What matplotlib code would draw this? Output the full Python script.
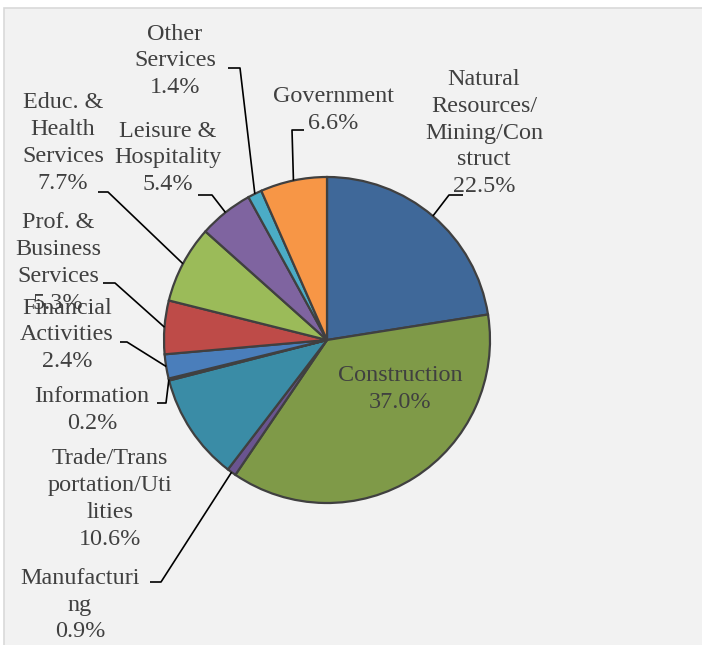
import numpy as np
import matplotlib
matplotlib.use("Agg")
import matplotlib.pyplot as plt
from matplotlib.patches import Rectangle

# data
sectors = ["Natural\nResources/\nMining/Con\nstruct", "Construction", "Manufacturi\nng",
           "Trade/Trans\nportation/Uti\nlities", "Information", "Financial\nActivities",
           "Prof. &\nBusiness\nServices", "Educ. &\nHealth\nServices", "Leisure &\nHospitality",
           "Other\nServices", "Government"]
shares = [22.5, 37.0, 0.9, 10.6, 0.2, 2.4, 5.3, 7.7, 5.4, 1.4, 6.6]
colors = ["#3F6899", "#7F9A48", "#6A5490", "#3A8CA6", "#2E4F7A", "#4A7EBB",
          "#BE4B48", "#9BBB59", "#7F64A0", "#4BACC6", "#F79646"]

W, H = 702, 645
fig = plt.figure(figsize=(W / 100, H / 100), dpi=100, facecolor="white")
ax = fig.add_axes([0, 0, 1, 1])
ax.axis("off")


def py(y):
    # pixel row -> data y
    return H - y


# chart area background
ax.add_patch(Rectangle((4, -5), W + 10, py(8) + 5, facecolor="#F2F2F2",
                       edgecolor="#D9D9D9", lw=1.2, zorder=0))

cx, cy, r = 327, py(340), 163
wedges, _ = ax.pie(shares, colors=colors, startangle=90, counterclock=False,
                   center=(cx, cy), radius=r,
                   wedgeprops=dict(edgecolor="#404040", linewidth=1.6, zorder=2))
ax.set_xlim(0, W)
ax.set_ylim(0, H)
ax.set_aspect("auto")

# label layout: text centre, leader start x, elbow (x, y) in pixel rows
layout = {
    0: ((484, 133), (463, 449, 195)),
    1: ((400, 389), None),
    2: ((80, 605), (150, 161, 582)),
    3: ((110, 499), None),
    4: ((92, 410), (157, 166, 403)),
    5: ((67, 335), (120, 127, 342)),
    6: ((58, 263), (103, 115, 283)),
    7: ((63, 143), (98, 108, 192)),
    8: ((168, 158), (198, 212, 195)),
    9: ((175, 61), (228, 240, 68)),
    10: ((333, 110), (304, 292, 130)),
}

for i, w in enumerate(wedges):
    (tx, ty), lead = layout[i]
    ax.text(tx, py(ty), "%s\n%.1f%%" % (sectors[i], shares[i]), ha="center", va="center",
            family="Liberation Serif", fontsize=17.4, color="#404040", linespacing=1.36,
            zorder=4)
    if lead is None:
        continue
    mid = np.deg2rad((w.theta1 + w.theta2) / 2)
    ex, ey = cx + r * np.cos(mid), cy + r * np.sin(mid)
    x0, x1, yy = lead
    ax.plot([x0, x1, ex], [py(yy), py(yy), ey], color="black", lw=1.2,
            solid_capstyle="butt", zorder=3)

fig.savefig("out.png", dpi=100, facecolor="white")
